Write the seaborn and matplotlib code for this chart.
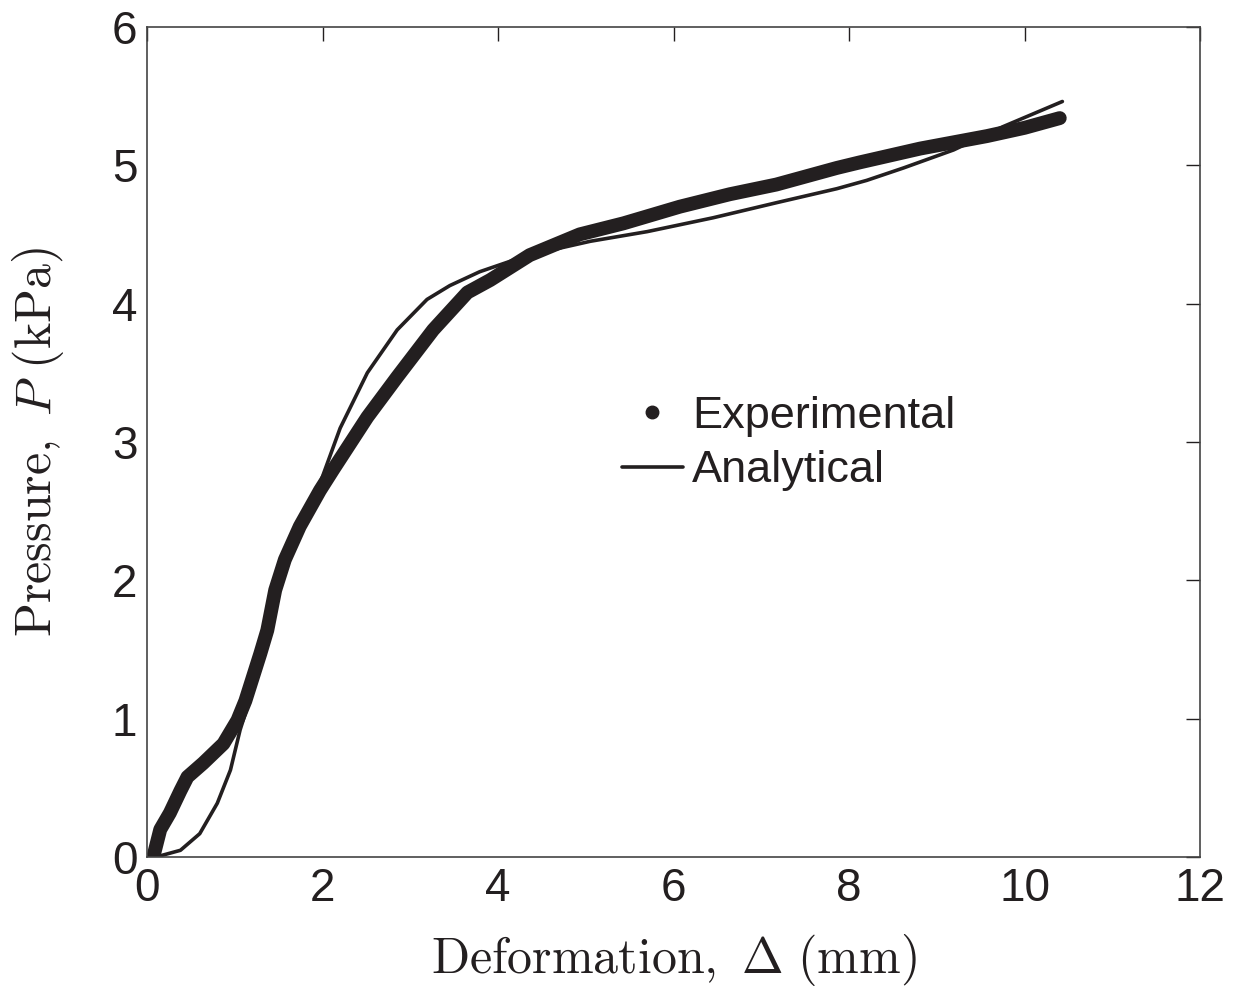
import numpy as np
import pandas as pd
import matplotlib
matplotlib.use("Agg")
import matplotlib.pyplot as plt
import seaborn as sns
from matplotlib.lines import Line2D

# experimental curve
exp_x = [0.07, 0.15, 0.26, 0.38, 0.46, 0.64, 0.87, 1.03, 1.12, 1.21, 1.29, 1.37,
         1.46, 1.57, 1.74, 1.97, 2.12, 2.51, 2.85, 3.26, 3.65, 3.91, 4.36, 4.93,
         5.43, 6.07, 6.64, 7.17, 7.86, 8.12, 8.81, 9.57, 10.00, 10.40]
exp_y = [0.00, 0.20, 0.32, 0.48, 0.58, 0.68, 0.82, 0.99, 1.13, 1.31, 1.47, 1.64,
         1.93, 2.15, 2.39, 2.65, 2.80, 3.18, 3.47, 3.81, 4.08, 4.17, 4.35, 4.50,
         4.58, 4.70, 4.79, 4.86, 4.98, 5.02, 5.12, 5.21, 5.27, 5.34]

# analytical curve
ana_x = [0.10, 0.15, 0.38, 0.60, 0.80, 0.95, 1.06, 1.17, 1.30, 1.40, 1.50, 1.62,
         1.80, 1.97, 2.20, 2.51, 2.85, 3.19, 3.45, 3.79, 4.25, 4.70, 5.05, 5.70,
         6.45, 7.18, 7.86, 8.20, 8.62, 9.19, 9.76, 10.43]
ana_y = [0.00, 0.01, 0.05, 0.17, 0.39, 0.63, 0.92, 1.14, 1.42, 1.70, 1.98, 2.22,
         2.45, 2.70, 3.10, 3.50, 3.81, 4.03, 4.13, 4.23, 4.33, 4.40, 4.45, 4.52,
         4.62, 4.73, 4.83, 4.89, 4.98, 5.11, 5.28, 5.46]

xticks = [0, 2, 4, 6, 8, 10, 12]
yticks = [0, 1, 2, 3, 4, 5, 6]

sns.set_style("white")
plt.rcParams["font.family"] = ["Liberation Sans", "DejaVu Sans"]
plt.rcParams["mathtext.fontset"] = "cm"

ink = "#231f20"

fig = plt.figure(figsize=(12.36, 9.91), dpi=100)
ax = fig.add_axes([0.119, 0.135, 0.852, 0.838])

exp_df = pd.DataFrame({"x": exp_x, "y": exp_y})
ana_df = pd.DataFrame({"x": ana_x, "y": ana_y})

sns.lineplot(data=exp_df, x="x", y="y", ax=ax, color=ink, lw=10,
             solid_capstyle="round", solid_joinstyle="round", sort=False, estimator=None)
sns.lineplot(data=ana_df, x="x", y="y", ax=ax, color=ink, lw=2.6,
             solid_joinstyle="round", sort=False, estimator=None)

ax.set_xlim(0, 12)
ax.set_ylim(0, 6)
ax.set_xticks(xticks)
ax.set_yticks(yticks)
ax.tick_params(direction="in", length=10, width=1, colors=ink, labelsize=33,
               top=True, right=True, labelcolor=ink, pad=7)
for s in ax.spines.values():
    s.set_color("#444444")
    s.set_linewidth(1.2)

ax.set_xlabel(r"$\mathrm{Deformation,}\ \Delta\ \mathrm{(mm)}$", fontsize=36, color=ink, labelpad=15)
ax.set_ylabel(r"$\mathrm{Pressure,}\ P\ \mathrm{(kPa)}$", fontsize=36, color=ink, labelpad=33)

handles = [Line2D([], [], color=ink, marker="o", ls="none", markersize=9),
           Line2D([], [], color=ink, lw=2.6)]
ax.legend(handles, ["Experimental", "Analytical"], loc="center left",
          bbox_to_anchor=(0.451, 0.498), frameon=False, fontsize=32.5,
          handlelength=1.35, handletextpad=0.2, borderpad=0, borderaxespad=0,
          labelspacing=0.3, labelcolor=ink)

fig.savefig("out.png", dpi=100)
